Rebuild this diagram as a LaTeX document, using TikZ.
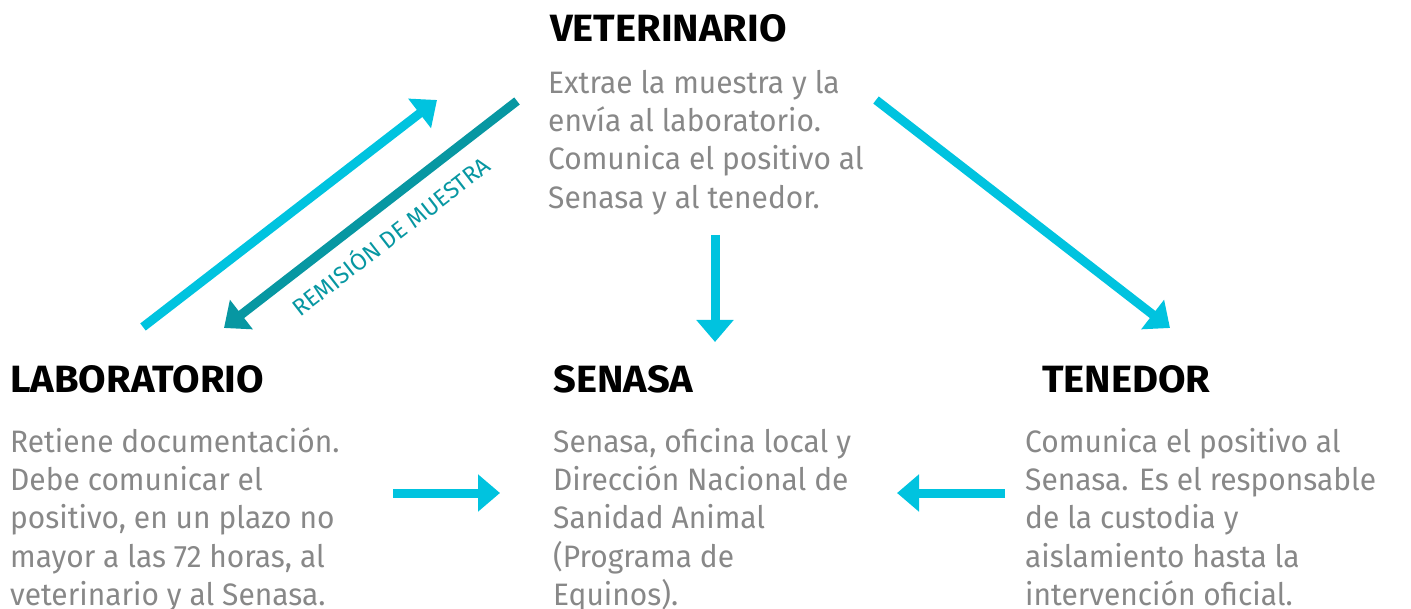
\documentclass[tikz,border=0pt]{standalone}
\usepackage{fontspec}
\setmainfont{Fira Sans}[FakeStretch=0.965]
\newfontfamily\titlefont{Fira Sans}[FakeStretch=1.05]
\newfontfamily\lblfont{Fira Sans}[FakeStretch=1.0]
\usetikzlibrary{arrows.meta}
\definecolor{cyanA}{HTML}{00C3DF}
\definecolor{tealA}{HTML}{0797A2}
\definecolor{bodygray}{HTML}{888888}
\tikzset{
  title/.style={font=\titlefont\bfseries\fontsize{38}{40}\selectfont, text=black, inner sep=0pt, anchor=base west},
  body/.style={font=\fontsize{31}{38.3}\selectfont, text=bodygray, align=left, inner sep=0pt, anchor=north west},
  conn/.style={line width=9pt, -{Triangle[length=22pt,width=36pt]}},
  lbl/.style={font=\lblfont\fontsize{23.5}{26}\selectfont, text=tealA, inner sep=0pt}
}
\begin{document}
\begin{tikzpicture}[x=1pt,y=-1pt]
\useasboundingbox (0,0) rectangle (1411,609);
% titles
\node[title] (vetT) at (550,42) {VETERINARIO};
\node[title] (labT) at (10,393) {LABORATORIO};
\node[title] (senT) at (553,393) {SENASA};
\node[title] (tenT) at (1042,393) {TENEDOR};
% bodies
\node[body] (vetB) at (548,66.2) {\strut Extrae la muestra y la\\envía al laboratorio.\\Comunica el positivo al\\Senasa y al tenedor.};
\node[body] (labB) at (10,425.2) {\strut Retiene documentación.\\Debe comunicar el\\positivo, en un plazo no\\mayor a las 72 horas, al\\veterinario y al Senasa.};
\node[body] (senB) at (553,425.2) {\strut Senasa, oficina local y\\Dirección Nacional de\\Sanidad Animal\\(Programa de\\Equinos).};
\node[body] (tenB) at (1025,425.2) {\strut Comunica el positivo al\\Senasa. Es el responsable\\de la custodia y\\aislamiento hasta la\\intervención oficial.};
% connector end points
\coordinate (labUp) at (143,327);
\coordinate (vetUp) at (437,100);
\coordinate (vetDn) at (517,101);
\coordinate (labDn) at (224,328);
\coordinate (vetMid) at (715,235);
\coordinate (senTop) at (715,342);
\coordinate (vetR) at (876,100);
\coordinate (tenTop) at (1170,328);
\coordinate (labR) at (393,493);
\coordinate (senL) at (500,493);
\coordinate (tenL) at (1005,493);
\coordinate (senR) at (897,493);
% connectors
\draw[conn, cyanA] (labUp) -- (vetUp);
\draw[conn, tealA] (vetDn) -- (labDn);
\draw[conn, cyanA] (vetMid) -- (senTop);
\draw[conn, cyanA] (vetR) -- (tenTop);
\draw[conn, cyanA] (labR) -- (senL);
\draw[conn, cyanA] (tenL) -- (senR);
\node[lbl, rotate=37.8] (remision) at (390,235) {REMISIÓN DE MUESTRA};
\end{tikzpicture}
\end{document}
